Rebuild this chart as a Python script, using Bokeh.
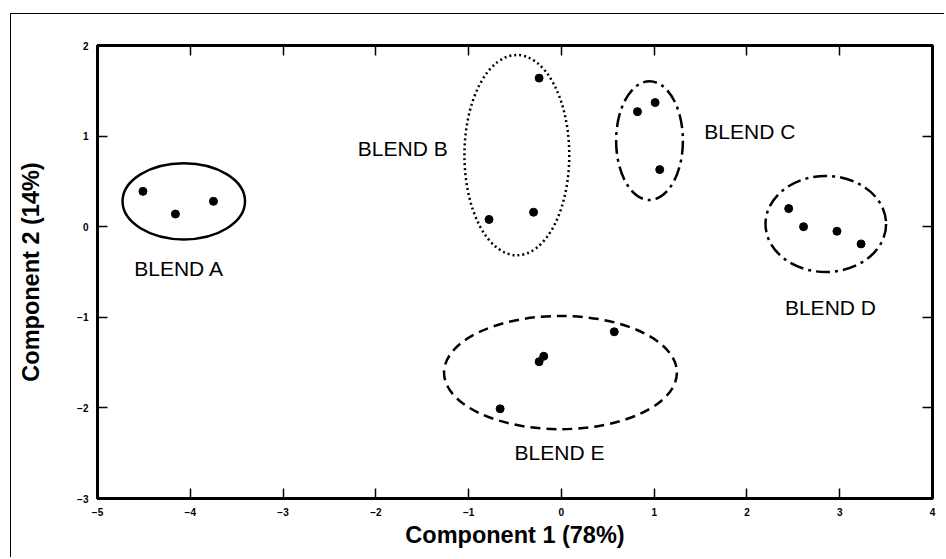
from bokeh.plotting import figure
from bokeh.models import LinearAxis, FixedTicker, Range1d
from bokeh.core.properties import value
from bokeh.embed import file_html
from bokeh.resources import INLINE

# ---- data ----
x_ticks = [-5, -4, -3, -2, -1, 0, 1, 2, 3, 4]
y_ticks = [-3, -2, -1, 0, 1, 2]

blend_a_x = [-4.51, -4.16, -3.75]
blend_a_y = [0.39, 0.14, 0.28]
blend_b_x = [-0.24, -0.78, -0.30]
blend_b_y = [1.64, 0.08, 0.16]
blend_c_x = [0.82, 1.01, 1.06]
blend_c_y = [1.27, 1.37, 0.63]
blend_d_x = [2.45, 2.61, 2.97, 3.23]
blend_d_y = [0.20, 0.00, -0.05, -0.19]
blend_e_x = [0.57, -0.24, -0.19, -0.66]
blend_e_y = [-1.16, -1.49, -1.43, -2.01]

# ellipse centers / sizes (data units)
ell_names = ["BLEND A", "BLEND B", "BLEND C", "BLEND D", "BLEND E"]
ell_cx = [-4.07, -0.48, 0.95, 2.85, -0.01]
ell_cy = [0.28, 0.79, 0.95, 0.03, -1.61]
ell_w = [1.32, 1.13, 0.72, 1.30, 2.51]
ell_h = [0.84, 2.21, 1.31, 1.06, 1.25]

label_x = [-4.12, -1.226, 1.54, 2.90, -0.02]
label_y = [-0.46, 0.86, 1.05, -0.89, -2.49]

FONT = "Liberation Sans"

p = figure(width=934, height=544, output_backend="svg", toolbar_location=None,
           x_range=Range1d(-5, 4), y_range=Range1d(-3, 2),
           min_border_left=86, min_border_top=31, min_border_right=13,
           min_border_bottom=60)
p.styles = {"margin-left": "10px", "margin-top": "13px",
            "border-left": "1px solid #000", "border-top": "1px solid #000"}
p.grid.visible = False
p.outline_line_color = "black"
p.outline_line_width = 3
p.background_fill_color = "white"
p.border_fill_color = "white"

def style_axis(ax, labels=True):
    ax.axis_line_width = 3
    ax.axis_line_color = "black"
    ax.major_tick_in = 10
    ax.major_tick_out = 0
    ax.major_tick_line_width = 1.5
    ax.major_tick_line_color = "black"
    ax.minor_tick_line_color = None
    ax.major_label_text_font = FONT
    ax.major_label_text_font_style = "bold"
    ax.major_label_text_font_size = "10px"
    ax.major_label_text_color = "black"
    if not labels:
        ax.major_label_text_font_size = "0px"
        ax.major_label_text_color = None

xa = p.xaxis[0]
ya = p.yaxis[0]
xa.ticker = FixedTicker(ticks=x_ticks)
ya.ticker = FixedTicker(ticks=y_ticks)
style_axis(xa)
style_axis(ya)
xa.major_label_standoff = 9
ya.major_label_standoff = 9
xa.axis_label = "Component 1 (78%)"
ya.axis_label = "Component 2 (14%)"
for ax in (xa, ya):
    ax.axis_label_text_font = FONT
    ax.axis_label_text_font_style = "bold"
    ax.axis_label_text_font_size = "23.5px"
    ax.axis_label_text_color = "black"
xa.axis_label_standoff = 3
ya.axis_label_standoff = 30

top = LinearAxis(ticker=FixedTicker(ticks=x_ticks))
style_axis(top, labels=False)
p.add_layout(top, "above")
right = LinearAxis(ticker=FixedTicker(ticks=y_ticks))
style_axis(right, labels=False)
p.add_layout(right, "right")

# ellipses
dashes = ["solid", "2 3", "14 5 3 5", "14 5 3 5", "10 6"]
for i in range(5):
    p.ellipse(x=[ell_cx[i]], y=[ell_cy[i]], width=[ell_w[i]], height=[ell_h[i]],
              fill_color=None, line_color="black", line_width=2.5,
              line_dash=dashes[i])

# points
for xs, ys in [(blend_a_x, blend_a_y), (blend_b_x, blend_b_y),
               (blend_c_x, blend_c_y), (blend_d_x, blend_d_y),
               (blend_e_x, blend_e_y)]:
    p.scatter(xs, ys, size=8, color="black")

aligns = ["center", "right", "left", "center", "center"]
for i in range(5):
    p.text(x=[label_x[i]], y=[label_y[i]], text=[ell_names[i]],
           text_font=value(FONT), text_font_size="21px", text_color="black",
           text_align=aligns[i], text_baseline="middle")

open("out.html", "w").write(file_html(p, INLINE))
